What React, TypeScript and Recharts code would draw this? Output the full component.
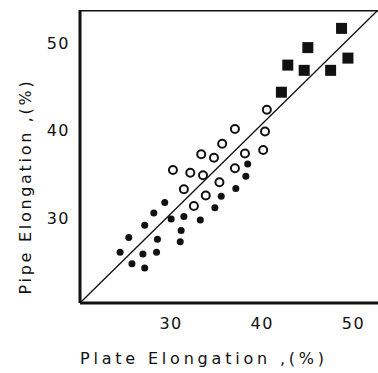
import { Scatter, ScatterChart, XAxis, YAxis } from 'recharts'

// plate vs pipe elongation
const solidPlate = [24.4, 25.35, 25.7, 26.9, 27.1, 27.1, 28.1, 28.4, 28.5, 29.3, 30.0, 31.0, 31.1, 31.4, 33.2, 34.8, 35.5, 37.1, 38.2, 38.4]
const solidPipe = [26.1, 27.8, 24.8, 25.9, 24.3, 29.2, 30.6, 26.1, 27.6, 31.8, 29.9, 27.3, 28.6, 30.2, 29.8, 31.2, 32.5, 33.4, 34.8, 36.2]

const openPlate = [30.2, 31.4, 32.1, 32.5, 33.3, 33.5, 33.8, 34.7, 35.3, 35.6, 37.0, 37.0, 38.1, 40.1, 40.3, 40.5]
const openPipe = [35.5, 33.3, 35.2, 31.4, 37.3, 34.9, 32.6, 36.9, 34.1, 38.5, 35.7, 40.2, 37.4, 37.8, 39.9, 42.4]

const squarePlate = [42.1, 42.8, 44.6, 45.0, 47.5, 48.7, 49.4]
const squarePipe = [44.4, 47.5, 46.9, 49.5, 46.9, 51.7, 48.3]

const xTicks = [30, 40, 50]
const yTicks = [30, 40, 50]
const xDomain: [number, number] = [20, 52.7]
const yDomain: [number, number] = [20.3, 53.8]

const ink = '#111'
const font = '"DejaVu Sans", sans-serif'

function toPoints(xs: number[], ys: number[]) {
  return xs.map((x, i) => ({ x, y: ys[i] }))
}

const solidData = toPoints(solidPlate, solidPipe)
const openData = toPoints(openPlate, openPipe)
const squareData = toPoints(squarePlate, squarePipe)
// 1:1 line, corner to corner of the frame
const diagonalData = toPoints(xDomain, yDomain)
const topEdgeData = toPoints(xDomain, [yDomain[1], yDomain[1]])

function SolidDot(props: any) {
  return <circle cx={props.cx} cy={props.cy} r={3.5} fill={ink} />
}

function OpenDot(props: any) {
  return <circle cx={props.cx} cy={props.cy} r={4} fill="none" stroke={ink} strokeWidth={2} />
}

function SquareDot(props: any) {
  return <rect x={props.cx - 5.5} y={props.cy - 5.5} width={11} height={11} fill={ink} />
}

function NoDot() {
  return <g />
}

function XTitle(props: any) {
  const vb = props.viewBox
  return (
    <text x={vb.x} y={vb.y + vb.height - 9} fill={ink} fontSize={16} fontFamily={font} letterSpacing={3.8}>
      Plate Elongation ,(%)
    </text>
  )
}

function YTitle(props: any) {
  const vb = props.viewBox
  const cx = 25
  const cy = vb.y + vb.height / 2 + 30
  return (
    <text
      x={cx}
      y={cy}
      transform={`rotate(-90, ${cx}, ${cy})`}
      textAnchor="middle"
      dominantBaseline="central"
      fill={ink}
      fontSize={16}
      fontFamily={font}
      letterSpacing={2.7}
    >
      Pipe Elongation ,(%)
    </text>
  )
}

export default function App() {
  const tickStyle = { fontSize: 16, fill: ink, fontFamily: font, letterSpacing: 1.5 }
  return (
    <div style={{ position: 'absolute', left: 0, top: 0, width: 378, height: 373, background: '#fff', overflow: 'hidden' }}>
      <ScatterChart width={378} height={373} margin={{ top: 10, right: 0, bottom: 0, left: 0 }}>
        <XAxis
          type="number"
          dataKey="x"
          domain={xDomain}
          ticks={xTicks}
          allowDataOverflow
          height={70}
          tickLine={false}
          tickMargin={9}
          axisLine={{ stroke: ink, strokeWidth: 3 }}
          tick={tickStyle}
          label={<XTitle />}
        />
        <YAxis
          type="number"
          dataKey="y"
          domain={yDomain}
          ticks={yTicks}
          allowDataOverflow
          width={80}
          tickLine={false}
          tickMargin={4}
          axisLine={{ stroke: ink, strokeWidth: 3 }}
          tick={tickStyle}
          label={<YTitle />}
        />
        <Scatter data={topEdgeData} line={{ stroke: ink, strokeWidth: 3 }} shape={<NoDot />} isAnimationActive={false} />
        <Scatter data={diagonalData} line={{ stroke: ink, strokeWidth: 1.3 }} shape={<NoDot />} isAnimationActive={false} />
        <Scatter data={solidData} shape={<SolidDot />} isAnimationActive={false} />
        <Scatter data={openData} shape={<OpenDot />} isAnimationActive={false} />
        <Scatter data={squareData} shape={<SquareDot />} isAnimationActive={false} />
      </ScatterChart>
    </div>
  )
}
